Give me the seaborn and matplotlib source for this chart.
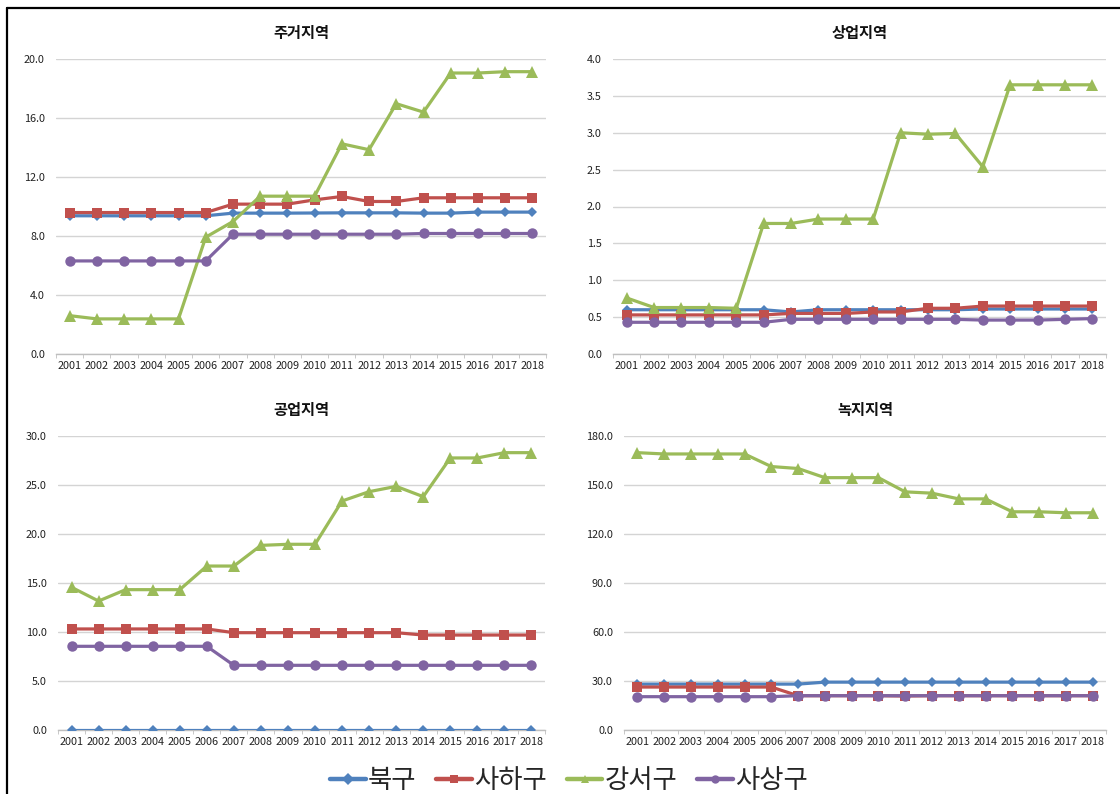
import numpy as np
import pandas as pd
import matplotlib
matplotlib.use("Agg")
import matplotlib.pyplot as plt
from matplotlib.lines import Line2D
import seaborn as sns

years = [str(y) for y in range(2001, 2019)]
districts = ["북구", "사하구", "강서구", "사상구"]

# 주거지역
res_bukgu = [9.37, 9.37, 9.37, 9.37, 9.37, 9.37, 9.55, 9.55, 9.55, 9.56, 9.57, 9.57, 9.57, 9.55, 9.55, 9.62, 9.62, 9.62]
res_saha = [9.59, 9.59, 9.59, 9.59, 9.59, 9.59, 10.16, 10.16, 10.16, 10.45, 10.68, 10.34, 10.34, 10.59, 10.59, 10.59, 10.59, 10.59]
res_gangseo = [2.60, 2.38, 2.38, 2.38, 2.38, 7.92, 8.98, 10.70, 10.70, 10.70, 14.25, 13.85, 16.97, 16.40, 19.05, 19.05, 19.14, 19.14]
res_sasang = [6.31, 6.31, 6.31, 6.31, 6.31, 6.31, 8.12, 8.12, 8.12, 8.12, 8.12, 8.12, 8.12, 8.17, 8.17, 8.17, 8.17, 8.17]

# 상업지역
com_bukgu = [0.60, 0.60, 0.60, 0.60, 0.60, 0.60, 0.57, 0.60, 0.60, 0.60, 0.60, 0.60, 0.60, 0.61, 0.61, 0.61, 0.61, 0.61]
com_saha = [0.53, 0.53, 0.53, 0.53, 0.53, 0.53, 0.55, 0.55, 0.55, 0.57, 0.57, 0.62, 0.62, 0.65, 0.65, 0.65, 0.65, 0.65]
com_gangseo = [0.76, 0.63, 0.63, 0.63, 0.62, 1.77, 1.77, 1.83, 1.83, 1.83, 3.00, 2.98, 2.99, 2.54, 3.65, 3.65, 3.65, 3.65]
com_sasang = [0.43, 0.43, 0.43, 0.43, 0.43, 0.43, 0.47, 0.47, 0.47, 0.47, 0.47, 0.47, 0.47, 0.46, 0.46, 0.46, 0.47, 0.48]

# 공업지역
ind_bukgu = [0.0] * 18
ind_saha = [10.31, 10.31, 10.31, 10.31, 10.31, 10.31, 9.93, 9.93, 9.93, 9.93, 9.93, 9.93, 9.93, 9.69, 9.69, 9.69, 9.69, 9.69]
ind_gangseo = [14.56, 13.16, 14.32, 14.32, 14.32, 16.73, 16.73, 18.84, 18.95, 18.95, 23.37, 24.32, 24.86, 23.81, 27.76, 27.76, 28.30, 28.30]
ind_sasang = [8.54, 8.54, 8.54, 8.54, 8.54, 8.54, 6.60, 6.60, 6.60, 6.60, 6.60, 6.60, 6.60, 6.60, 6.60, 6.60, 6.60, 6.60]

# 녹지지역
grn_bukgu = [28.1, 28.1, 28.1, 28.1, 28.1, 28.1, 28.1, 29.3, 29.3, 29.3, 29.3, 29.3, 29.3, 29.3, 29.3, 29.3, 29.3, 29.3]
grn_saha = [26.3, 26.3, 26.3, 26.3, 26.3, 26.3, 21.0, 21.0, 21.0, 21.0, 20.8, 21.0, 21.0, 21.0, 21.0, 21.0, 21.0, 21.0]
grn_gangseo = [169.8, 169.0, 169.0, 169.0, 169.0, 161.3, 160.1, 154.5, 154.5, 154.5, 145.8, 145.0, 141.5, 141.5, 133.6, 133.6, 133.0, 133.0]
grn_sasang = [20.4, 20.4, 20.4, 20.4, 20.4, 20.4, 21.0, 21.0, 21.0, 21.0, 21.0, 21.0, 21.0, 21.0, 21.0, 21.0, 21.0, 21.0]

panels = [
    ("주거지역", [res_bukgu, res_saha, res_gangseo, res_sasang], 20.0, 4.0),
    ("상업지역", [com_bukgu, com_saha, com_gangseo, com_sasang], 4.0, 0.5),
    ("공업지역", [ind_bukgu, ind_saha, ind_gangseo, ind_sasang], 30.0, 5.0),
    ("녹지지역", [grn_bukgu, grn_saha, grn_gangseo, grn_sasang], 180.0, 30.0),
]

colors = {"북구": "#4F81BD", "사하구": "#C0504D", "강서구": "#9BBB59", "사상구": "#8064A2"}
markers = {"북구": "D", "사하구": "s", "강서구": "^", "사상구": "o"}
msizes = {"북구": 5.5, "사하구": 7.5, "강서구": 8, "사상구": 7.5}

sns.set_style("white")
plt.rcParams["font.family"] = ["Noto Sans CJK KR", "DejaVu Sans"]

W, H = 1120, 794
fig = plt.figure(figsize=(W / 100, H / 100), dpi=100)

# axes boxes in pixel coordinates: left, right, top, bottom
boxes = [
    (56, 546, 59, 354),
    (613, 1106, 59, 354),
    (58, 545, 436, 730),
    (624, 1106, 436, 730),
]
title_y = [33, 33, 410, 410]

pos = np.arange(len(years))
for (title, series, ymax, step), (l, r, t, b), ty in zip(panels, boxes, title_y):
    ax = fig.add_axes([l / W, 1 - b / H, (r - l) / W, (b - t) / H])
    df = pd.DataFrame({
        "pos": np.tile(pos, len(districts)),
        "value": np.concatenate(series),
        "district": np.repeat(districts, len(years)),
    })
    for d in districts:
        sub = df[df["district"] == d]
        sns.lineplot(data=sub, x="pos", y="value", ax=ax, color=colors[d],
                     marker=markers[d], markersize=msizes[d], markeredgewidth=0,
                     linewidth=2.3, legend=False, zorder=3)
    ticks = np.arange(0, ymax + step / 2, step)
    ax.set_xlim(-0.5, len(years) - 0.5)
    ax.set_ylim(0, ymax)
    ax.set_yticks(ticks)
    ax.set_yticklabels([f"{v:.1f}" for v in ticks])
    ax.set_xticks(pos)
    ax.set_xticklabels(years)
    ax.set_xticks(np.arange(-0.5, len(years)), minor=True)
    ax.tick_params(axis="x", which="major", length=0, labelsize=7.8, pad=5, colors="#222222")
    ax.tick_params(axis="x", which="minor", length=3, color="#BFBFBF", bottom=True)
    ax.tick_params(axis="y", length=0, labelsize=7.8, pad=8, colors="#222222")
    ax.yaxis.grid(True, color="#D4D4D4", linewidth=1.0)
    ax.set_axisbelow(True)
    for s in ["top", "right", "left"]:
        ax.spines[s].set_visible(False)
    ax.spines["bottom"].set_color("#BFBFBF")
    ax.spines["bottom"].set_linewidth(1.0)
    ax.set_xlabel("")
    ax.set_ylabel("")
    fig.text(((l + r) / 2) / W, 1 - ty / H, title, ha="center", va="center",
             fontsize=11, fontweight="bold", color="#111111")

# page frame
fig.add_artist(Line2D([7 / W, 7 / W], [0, 1 - 8 / H], transform=fig.transFigure,
                      color="black", linewidth=1.6))
fig.add_artist(Line2D([7 / W, 1], [1 - 8 / H, 1 - 8 / H], transform=fig.transFigure,
                      color="black", linewidth=1.6))

handles = [Line2D([], [], color=colors[d], marker=markers[d], markersize=6,
                  markeredgewidth=0, linewidth=3.2) for d in districts]
fig.legend(handles, districts, loc="center", bbox_to_anchor=(0.508, 1 - 781 / H),
           ncol=4, frameon=False, fontsize=19, handlelength=1.35, handletextpad=0.08,
           columnspacing=0.75)

fig.savefig("out.png", dpi=100, facecolor="white")
